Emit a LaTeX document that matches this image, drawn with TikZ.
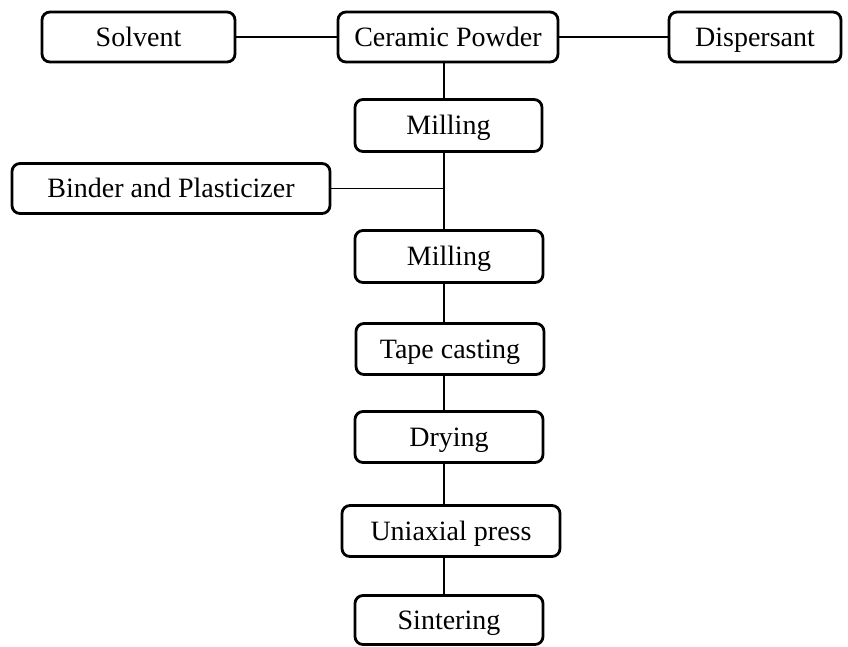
\documentclass[tikz,border=0pt]{standalone}
\usepackage{fontspec}
\setmainfont{Liberation Serif}
\usetikzlibrary{positioning}

\tikzset{
  stepbox/.style={draw, line width=2.8pt, rounded corners=8pt, fill=white,
    inner sep=0pt, text height=18.5pt, text depth=0pt,
    font=\fontsize{28}{32}\selectfont},
  link/.style={line width=1.2pt}
}

\begin{document}
\begin{tikzpicture}[x=1pt, y=-1pt]

\useasboundingbox (0,0) rectangle (848,646);

\coordinate (spine) at (444,0);

\node[stepbox, minimum width=193pt, minimum height=50pt] (solvent) at (138.5,37) {Solvent};
\node[stepbox, minimum width=220pt, minimum height=50pt] (powder) at (448,37) {Ceramic Powder};
\node[stepbox, minimum width=172pt, minimum height=50pt] (dispersant) at (755,37) {Dispersant};
\node[stepbox, minimum width=187pt, minimum height=52pt] (mill1) at (448.5,125.5) {Milling};
\node[stepbox, minimum width=318pt, minimum height=50pt] (binder) at (171,188.5) {Binder and Plasticizer};
\node[stepbox, minimum width=188pt, minimum height=52pt] (mill2) at (449,256.5) {Milling};
\node[stepbox, minimum width=188pt, minimum height=51pt] (tape) at (450,349) {Tape casting};
\node[stepbox, minimum width=188pt, minimum height=51pt] (drying) at (449,437) {Drying};
\node[stepbox, minimum width=218pt, minimum height=51pt] (press) at (451,531) {Uniaxial press};
\node[stepbox, minimum width=188pt, minimum height=49pt] (sinter) at (449,620) {Sintering};

\draw[link] (solvent) -- (powder);
\draw[link] (powder) -- (dispersant);
\draw[link] (powder.south -| spine) -- (mill1.north -| spine);
\draw[link] (mill1.south -| spine) -- (mill2.north -| spine);
\draw[link] (binder.east) -- (binder.east -| spine);
\draw[link] (mill2.south -| spine) -- (tape.north -| spine);
\draw[link] (tape.south -| spine) -- (drying.north -| spine);
\draw[link] (drying.south -| spine) -- (press.north -| spine);
\draw[link] (press.south -| spine) -- (sinter.north -| spine);

\end{tikzpicture}
\end{document}
